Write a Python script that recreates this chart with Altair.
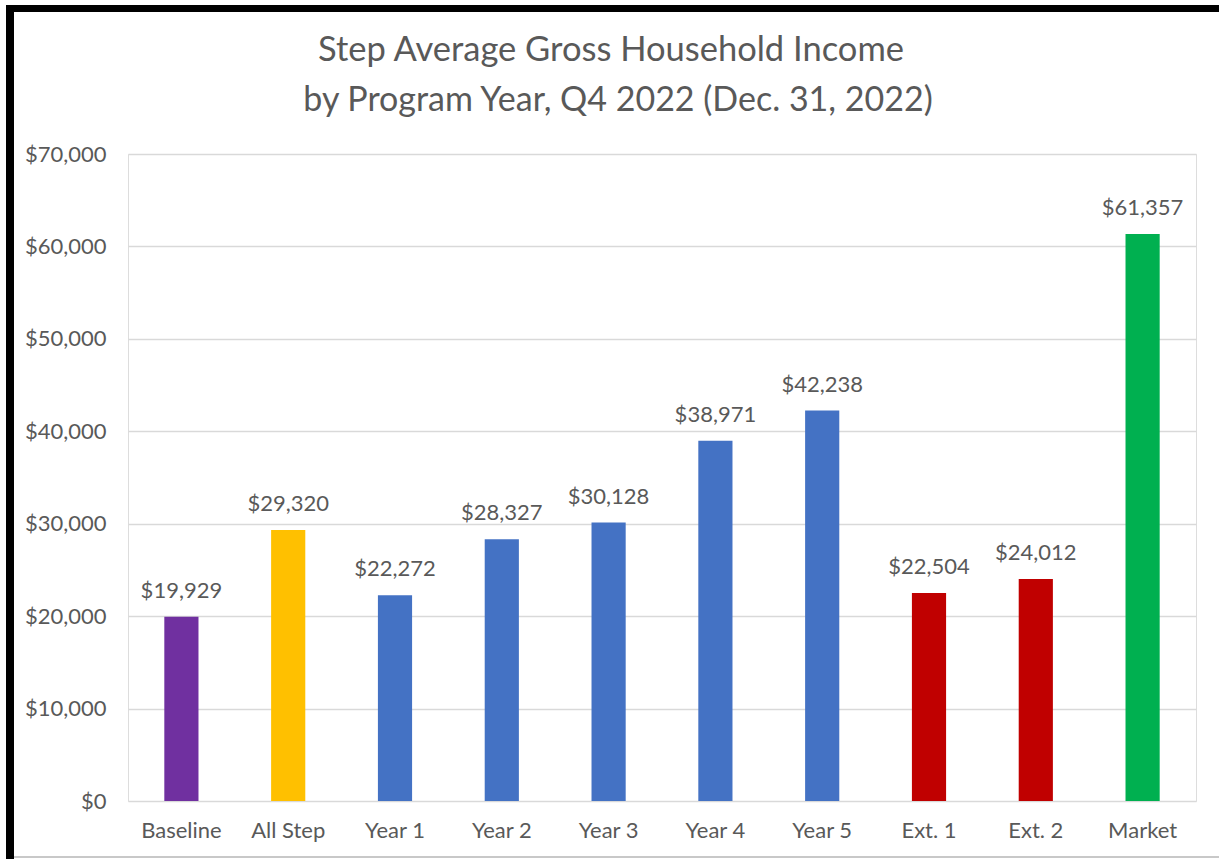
import altair as alt
import pandas as pd

categories = ["Baseline", "All Step", "Year 1", "Year 2", "Year 3", "Year 4", "Year 5", "Ext. 1", "Ext. 2", "Market"]
values = [19929, 29320, 22272, 28327, 30128, 38971, 42238, 22504, 24012, 61357]
colors = ["#7030A0", "#FFC000", "#4472C4", "#4472C4", "#4472C4", "#4472C4", "#4472C4", "#C00000", "#C00000", "#00B050"]
title_lines = ["Step Average Gross Household Income", "by Program Year, Q4 2022 (Dec. 31, 2022)"]

df = pd.DataFrame({"cat": categories, "val": values, "color": colors})

FONT = "Lato"
GRAY = "#595959"

x = alt.X("cat:N", sort=categories, title=None,
          scale=alt.Scale(paddingInner=0.68, paddingOuter=0.34),
          axis=alt.Axis(labelAngle=0, labelFontSize=22, labelColor=GRAY, labelFont=FONT,
                        domain=False, ticks=False, labelPadding=19))
y = alt.Y("val:Q", title=None,
          scale=alt.Scale(domain=[0, 70000], nice=False),
          axis=alt.Axis(values=list(range(0, 70001, 10000)), format="$,.0f",
                        labelFontSize=22, labelColor=GRAY, labelFont=FONT,
                        domain=False, ticks=False, labelPadding=22,
                        gridColor="#d9d9d9", gridWidth=1.5))

bars = alt.Chart(df).mark_bar().encode(
    x=x, y=y, color=alt.Color("color:N", scale=None)
)
labels = alt.Chart(df).mark_text(baseline="bottom", dy=-14, fontSize=22, font=FONT, color=GRAY).encode(
    x=alt.X("cat:N", sort=categories), y="val:Q", text=alt.Text("val:Q", format="$,.0f")
)

t1 = alt.Chart(pd.DataFrame({"t": [title_lines[0]]})).mark_text(
    fontSize=34.5, font=FONT, color=GRAY, align="center", baseline="alphabetic").encode(
    x=alt.value(483), y=alt.value(-93), text="t:N")
t2 = alt.Chart(pd.DataFrame({"t": [title_lines[1]]})).mark_text(
    fontSize=34, font=FONT, color=GRAY, align="center", baseline="alphabetic").encode(
    x=alt.value(490), y=alt.value(-43), text="t:N")

frame_df = pd.DataFrame({"k": [0]})
left_border = alt.Chart(frame_df).mark_rule(color="black", strokeWidth=8).encode(
    x=alt.value(-118), y=alt.value(-149), y2=alt.value(705))
top_border = alt.Chart(frame_df).mark_rule(color="black", strokeWidth=7).encode(
    y=alt.value(-145.5), x=alt.value(-122), x2=alt.value(1091))
bottom_line = alt.Chart(frame_df).mark_rule(color="#c8c8c8", strokeWidth=2).encode(
    y=alt.value(703), x=alt.value(-114), x2=alt.value(1091))

chart = alt.layer(bars, labels, t1, t2, left_border, top_border, bottom_line).properties(
    width=1068, height=647,
    autosize=alt.AutoSizeParams(type="none"),
    padding={"left": 128, "top": 154, "right": 23, "bottom": 58},
).configure_view(stroke=None).configure(background="white")

chart.save("out.html", embed_options={"renderer": "svg", "actions": False})
